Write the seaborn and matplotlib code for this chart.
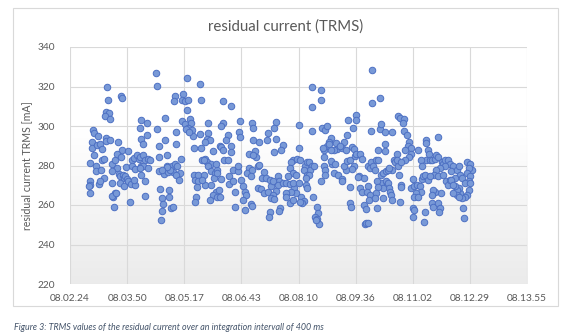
import numpy as np
import pandas as pd
import seaborn as sns
import matplotlib
matplotlib.use("Agg")
import matplotlib.pyplot as plt
from matplotlib.patches import Rectangle
from matplotlib.colors import LinearSegmentedColormap

# (seconds after 08:02:24, TRMS residual current in mA), in recording blocks
block_1 = [(56, 320), (58, 313), (77, 315), (79, 314), (55, 307), (59, 306.5), (53, 305), (61, 303.5), (35, 298), (36, 296.5),
           (42, 295), (54, 294), (55, 292.5), (61, 293), (72, 292), (34, 292), (33, 289), (41, 290.5), (45, 291), (49, 288.5),
           (79, 288), (88, 287.5), (36, 285.5), (31, 281.5), (40, 279.5), (39, 277), (47, 277.5), (49, 283), (51, 283.5), (63, 281),
           (68, 283), (71, 286), (77, 284.5), (71, 278.5), (63, 277), (74, 275.5), (85, 279), (94, 283), (97, 284), (94, 280),
           (102, 285.5), (99, 278), (52, 273.5), (44, 270.5), (45, 272), (31, 272), (30, 270), (28, 269.5), (30, 266), (64, 271),
           (76, 274.5), (80, 275), (82, 273.5), (83, 274.5), (86, 273), (76, 271), (82, 269.5), (88, 272), (92, 270.5), (99, 270),
           (97, 272.5), (68, 266), (65, 264), (64, 264.5), (70, 266), (66, 259), (91, 261.5), (107, 275), (104, 283.5), (108, 279.5),
           (106, 284.5)]
block_2 = [(130, 327), (131, 320.5), (177, 324.5), (197, 321.5), (159, 315), (158, 312.5), (171, 316), (170, 313), (174, 312.5), (179, 313),
           (177, 308), (198, 313), (107, 303), (106, 299), (116, 301.5), (144, 304), (132, 298.5), (169, 302.5), (174, 301), (182, 303.5),
           (183, 301.5), (179, 299), (176, 298.5), (184, 298), (186, 295), (180, 297), (209, 301.5), (196, 296), (209, 296.5), (207, 293.5),
           (212, 293), (204, 292), (217, 287.5), (227, 290), (160, 297), (108, 293.5), (111, 291), (117, 295.5), (144, 293), (160, 291),
           (134, 290), (187, 289), (198, 289), (147, 285.5), (134, 284.5), (168, 283.5), (199, 283), (204, 283.5), (207, 282), (202, 283),
           (214, 281), (209, 279.5), (110, 285.5), (113, 283), (118, 283.5), (121, 283), (111, 279.5), (118, 278.5), (106, 278.5), (113, 272),
           (146, 280), (154, 279.5), (159, 281), (162, 279.5), (166, 276), (156, 276.5), (161, 275), (165, 272.5), (135, 277), (142, 275.5),
           (148, 276.5), (152, 277.5), (146, 279), (139, 277.5), (150, 267.5), (136, 268), (139, 263.5), (141, 260.5), (139, 257), (137, 252.5),
           (149, 264), (153, 258.5), (156, 259), (114, 264.5), (187, 275), (189, 272.5), (194, 275), (193, 272), (192, 269), (191, 264),
           (189, 261.5), (202, 275), (204, 270), (199, 272.5), (214, 277), (219, 276), (218, 273.5), (222, 277.5), (213, 270), (221, 266.5),
           (216, 265), (223, 264), (212, 262.5), (226, 267.5), (227, 264)]
block_3 = [(231, 312.5), (244, 310), (231, 301.5), (228, 300), (257, 302.5), (275, 301.5), (277, 299), (311, 302), (309, 299), (239, 295.5),
           (236, 293), (255, 297), (257, 294.5), (286, 292), (277, 293), (299, 296.5), (298, 293), (312, 293.5), (228, 289.5), (232, 288),
           (244, 290), (244, 287), (322, 290.5), (319, 288), (308, 287), (233, 283), (239, 283), (223, 276), (228, 273), (221, 281),
           (246, 277.5), (254, 277), (254, 280), (271, 286), (280, 287.5), (281, 284.5), (277, 285.5), (271, 278.5), (267, 276), (276, 277.5),
           (284, 279.5), (286, 280.5), (274, 274.5), (241, 274.5), (241, 270.5), (247, 272), (250, 266.5), (259, 272.5), (262, 269.5), (264, 266.5),
           (266, 265), (261, 262.5), (265, 257.5), (250, 259), (274, 260.5), (276, 259.5), (294, 276.5), (291, 273.5), (297, 273.5), (284, 268.5),
           (289, 268), (294, 266), (299, 266.5), (304, 269.5), (302, 272.5), (314, 274.5), (316, 272), (307, 272), (314, 270), (322, 271),
           (327, 271), (332, 270.5), (311, 267), (307, 265), (304, 263.5), (309, 263), (302, 256.5), (301, 254), (317, 258.5), (316, 257),
           (337, 283), (334, 282), (332, 278.5), (338, 276), (342, 275), (329, 274.5), (339, 268.5), (342, 266), (334, 266.5), (327, 266),
           (327, 264), (332, 261), (338, 262.5)]
block_4 = [(366, 320), (380, 318), (380, 313), (366, 309.5), (457, 328.5), (457, 311.5), (346, 300.5), (366, 297.5), (381, 299), (386, 298),
           (389, 300), (421, 303), (433, 305.5), (432, 303), (428, 299), (456, 297.5), (394, 294), (391, 292), (389, 290), (384, 288),
           (382, 289), (402, 291.5), (404, 288.5), (412, 289), (414, 292), (419, 295.5), (427, 289.5), (430, 288.5), (418, 288), (400, 288),
           (395, 288), (392, 291), (408, 290), (346, 289), (343, 283.5), (348, 283), (356, 280), (359, 282), (361, 282), (366, 279.5),
           (363, 277.5), (369, 280), (354, 277.5), (359, 275), (361, 275), (357, 273.5), (384, 284.5), (384, 280), (386, 277.5), (385, 275),
           (396, 281), (394, 282.5), (401, 281), (399, 276), (406, 275), (411, 273), (412, 272), (417, 277.5), (414, 279.5), (419, 282.5),
           (424, 283), (431, 285), (432, 286), (439, 286), (442, 283.5), (430, 279.5), (427, 278), (437, 274.5), (444, 273.5), (436, 274),
           (338, 271), (357, 270), (359, 268.5), (346, 271), (350, 264), (354, 262), (351, 261), (348, 261.5), (367, 264), (379, 272),
           (374, 259), (375, 256), (371, 254), (374, 253), (376, 250.5), (372, 252.5), (423, 269), (424, 261), (425, 259), (439, 268.5),
           (442, 266.5), (451, 269.5), (449, 266.5), (444, 260), (447, 258), (446, 250.5), (448, 251), (454, 265), (452, 262.5)]
block_5 = [(469, 314), (496, 305), (499, 304), (505, 303.5), (504, 301.5), (469, 298.5), (470, 301), (477, 297), (487, 297), (505, 297.5),
           (509, 295.5), (512, 292), (511, 290), (515, 289), (507, 288), (516, 286), (512, 284.5), (506, 283), (466, 288), (476, 291),
           (477, 287.5), (494, 286), (490, 283), (491, 282), (496, 279.5), (487, 277.5), (495, 283), (501, 282), (497, 275), (451, 279.5),
           (456, 282), (463, 283), (466, 283), (453, 278.5), (458, 279.5), (461, 277.5), (471, 275), (473, 276), (478, 277), (481, 277.5),
           (483, 278.5), (471, 271), (465, 272), (478, 272), (480, 270), (481, 271), (482, 268.5), (484, 266.5), (486, 265), (487, 262.5),
           (473, 268.5), (466, 269), (463, 266), (461, 263.5), (473, 263.5), (464, 258.5), (451, 251), (500, 270), (501, 269), (499, 261.5),
           (519, 258.5), (521, 257.5), (519, 254)]
block_6 = [(516, 268.5), (519, 273), (521, 269.5), (525, 270), (529, 269.5), (531, 266.5), (524, 266), (521, 264), (527, 264), (533, 273),
           (534, 274.5), (537, 275), (539, 283), (539, 293), (538, 291.5), (542, 288), (543, 286), (527, 288), (531, 283), (532, 279.5),
           (544, 283), (547, 283), (552, 283.5), (554, 285.5), (556, 294.5), (557, 284.5), (562, 282), (564, 281), (567, 283), (572, 283),
           (574, 281), (567, 279.5), (559, 278.5), (554, 277.5), (551, 275), (557, 274.5), (564, 275), (568, 272), (572, 270), (574, 272.5),
           (561, 266), (552, 266.5), (549, 267.5), (547, 265), (548, 261), (549, 259), (557, 261), (559, 258.5), (558, 256.5), (537, 256.5),
           (536, 251.5), (541, 272.5), (544, 274.5), (580, 279.5), (577, 277), (585, 277.5), (588, 279.5), (590, 275), (583, 273.5), (593, 273.5),
           (600, 282), (605, 281), (608, 277.5), (603, 278.5), (600, 276), (605, 274.5), (603, 272), (598, 271), (605, 271), (604, 267.5),
           (600, 265), (598, 264), (595, 258.5), (596, 253.5), (593, 263.5), (590, 266), (588, 268.5), (585, 267.5), (583, 269.5), (577, 272.5),
           (580, 270), (585, 265), (589, 264), (580, 266)]

x_tick_labels = ["08.02.24", "08.03.50", "08.05.17", "08.06.43", "08.08.10",
                 "08.09.36", "08.11.02", "08.12.29", "08.13.55"]
y_ticks = [220, 240, 260, 280, 300, 320, 340]

title = "residual current (TRMS)"
y_label = "residual current TRMS [mA]"
caption = "Figure 3: TRMS values of the residual current over an integration intervall of 400 ms"

samples = block_1 + block_2 + block_3 + block_4 + block_5 + block_6
df = pd.DataFrame(samples, columns=["t", "trms"])

sns.set_style("white")
plt.rcParams["font.family"] = ["Lato", "DejaVu Sans"]

W, H = 573, 336
fig = plt.figure(figsize=(W / 100, H / 100), dpi=100)
ax = fig.add_axes([70 / W, 52 / H, 457 / W, 237 / H])

tick_step = 86.4  # 0.001 day between major ticks
x_max = tick_step * (len(x_tick_labels) - 1)

# soft white-to-grey fill of the plot area
grad_cmap = LinearSegmentedColormap.from_list(
    "fill", [(0.0, "#ffffff"), (0.35, "#ffffff"), (1.0, "#ebebeb")])
grad = np.linspace(0, 1, 256).reshape(-1, 1)
ax.imshow(grad, extent=[0, x_max, y_ticks[0], y_ticks[-1]], aspect="auto",
          cmap=grad_cmap, zorder=0, interpolation="bicubic")

sns.scatterplot(data=df, x="t", y="trms", ax=ax, s=22, color="#7899d7",
                edgecolor="#4d70c3", linewidth=0.7, zorder=3, legend=False)

ax.set_xlim(0, x_max)
ax.set_ylim(y_ticks[0], y_ticks[-1])
ax.set_xticks([i * tick_step for i in range(len(x_tick_labels))])
ax.set_xticklabels(x_tick_labels)
ax.set_yticks(y_ticks)
ax.set_axisbelow(True)
ax.grid(True, color="#d9d9d9", linewidth=0.8)
for s in ax.spines.values():
    s.set_visible(False)
ax.tick_params(axis="both", length=0, labelsize=7.3, labelcolor="#595959")
ax.tick_params(axis="x", pad=7)
ax.tick_params(axis="y", pad=11)
ax.set_xlabel("")
ax.set_ylabel(y_label, fontsize=7.6, color="#595959", labelpad=4)

fig.text(285.5 / W, 1 - 27 / H, title, ha="center", va="center",
         fontsize=10.8, color="#595959")
fig.text(14 / W, 1 - 328 / H, caption, ha="left", va="center",
         fontsize=6.4, style="italic", color="#44546a")

frame = Rectangle((13 / W, 30 / H), 545 / W, 298 / H, transform=fig.transFigure,
                  fill=False, edgecolor="#d9d9d9", linewidth=0.8)
fig.add_artist(frame)

fig.savefig("out.png", dpi=100, facecolor="white")
